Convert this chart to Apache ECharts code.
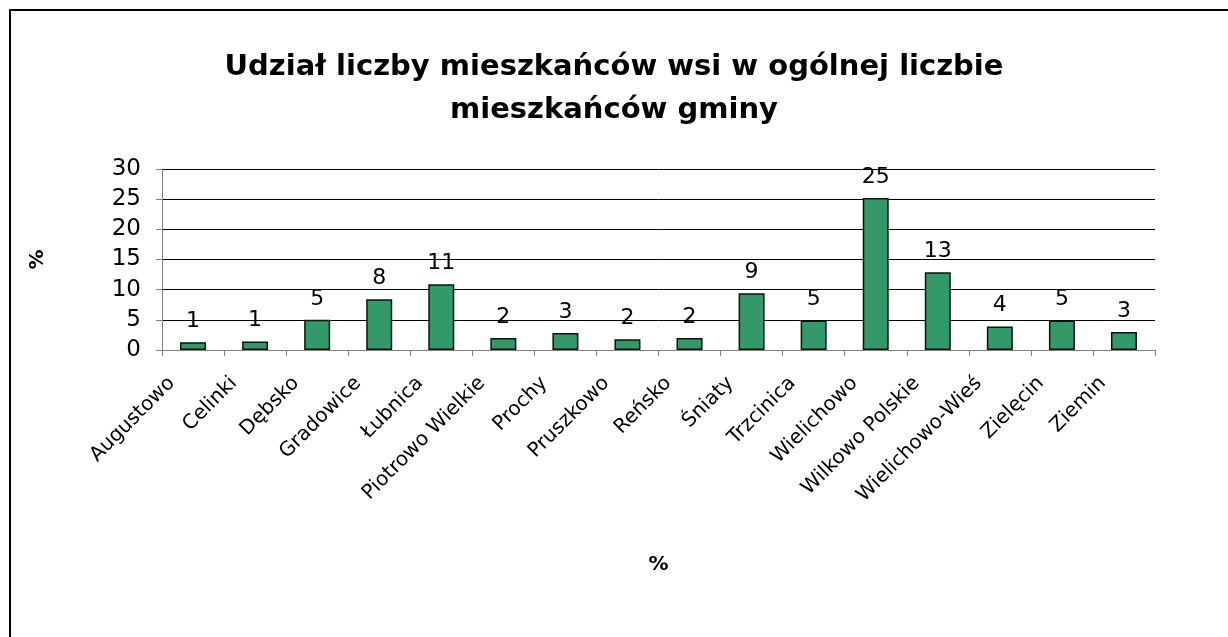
<!DOCTYPE html>
<html>
<head>
<meta charset="utf-8">
<script src="https://cdn.jsdelivr.net/npm/echarts@6/dist/echarts.min.js"></script>
<style>
html, body { margin: 0; padding: 0; background: #fff; }
#main { width: 1228px; height: 637px; }
</style>
</head>
<body>
<div id="main"></div>
<script>
var wsie = ['Augustowo', 'Celinki', 'Dębsko', 'Gradowice', 'Łubnica', 'Piotrowo Wielkie', 'Prochy', 'Pruszkowo',
    'Reńsko', 'Śniaty', 'Trzcinica', 'Wielichowo', 'Wilkowo Polskie', 'Wielichowo-Wieś', 'Zielęcin', 'Ziemin'];
var udzial = [1.3, 1.4, 5.0, 8.4, 10.9, 2.0, 2.8, 1.8, 2.0, 9.4, 4.9, 25.2, 12.9, 3.9, 4.9, 3.0];
var osY = [0, 5, 10, 15, 20, 25, 30];

var font = 'DejaVu Sans, Liberation Sans, sans-serif';
var wykres = echarts.init(document.getElementById('main'));

var opcje = {
    backgroundColor: '#fff',
    animation: false,
    title: {
        text: 'Udział liczby mieszkańców wsi w ogólnej liczbie\nmieszkańców gminy',
        left: 'center',
        top: 41,
        textStyle: {
            fontFamily: font,
            fontSize: 29,
            fontWeight: 'bold',
            color: '#000',
            lineHeight: 43
        }
    },
    graphic: [{
        type: 'rect',
        shape: { x: 10, y: 10, width: 1300, height: 700 },
        style: { fill: 'none', stroke: '#000', lineWidth: 2 }
    }],
    grid: {
        left: 162,
        right: 73,
        top: 169,
        bottom: 287
    },
    xAxis: {
        type: 'category',
        data: wsie,
        name: '%',
        nameLocation: 'middle',
        nameGap: 205,
        nameTextStyle: { fontFamily: font, fontSize: 20, fontWeight: 'bold', color: '#000' },
        axisLine: { lineStyle: { color: '#808080', width: 1 } },
        axisTick: { show: true, length: 6, lineStyle: { color: '#808080' } },
        axisLabel: {
            rotate: 45,
            interval: 0,
            margin: 9,
            padding: [0, 30, 0, 0],
            fontFamily: font,
            fontSize: 20,
            color: '#000'
        }
    },
    yAxis: {
        type: 'value',
        min: osY[0],
        max: osY[osY.length - 1],
        interval: 5,
        name: '%',
        nameLocation: 'middle',
        nameGap: 114,
        nameRotate: 90,
        nameTextStyle: { fontFamily: font, fontSize: 20, fontWeight: 'bold', color: '#000' },
        axisLine: { show: true, lineStyle: { color: '#808080', width: 1 } },
        axisTick: { show: true, length: 6, lineStyle: { color: '#808080' } },
        axisLabel: { fontFamily: font, fontSize: 23, color: '#000', margin: 21 },
        splitLine: { lineStyle: { color: '#000', width: 1 } }
    },
    series: [{
        type: 'bar',
        data: udzial,
        barWidth: 26,
        itemStyle: {
            color: '#339966',
            borderColor: '#111',
            borderWidth: 1.5
        },
        label: {
            show: true,
            position: 'top',
            distance: 10,
            fontFamily: font,
            fontSize: 22,
            color: '#000',
            formatter: function (p) { return Math.round(p.value); }
        }
    }]
};

wykres.setOption(opcje);
</script>
</body>
</html>
